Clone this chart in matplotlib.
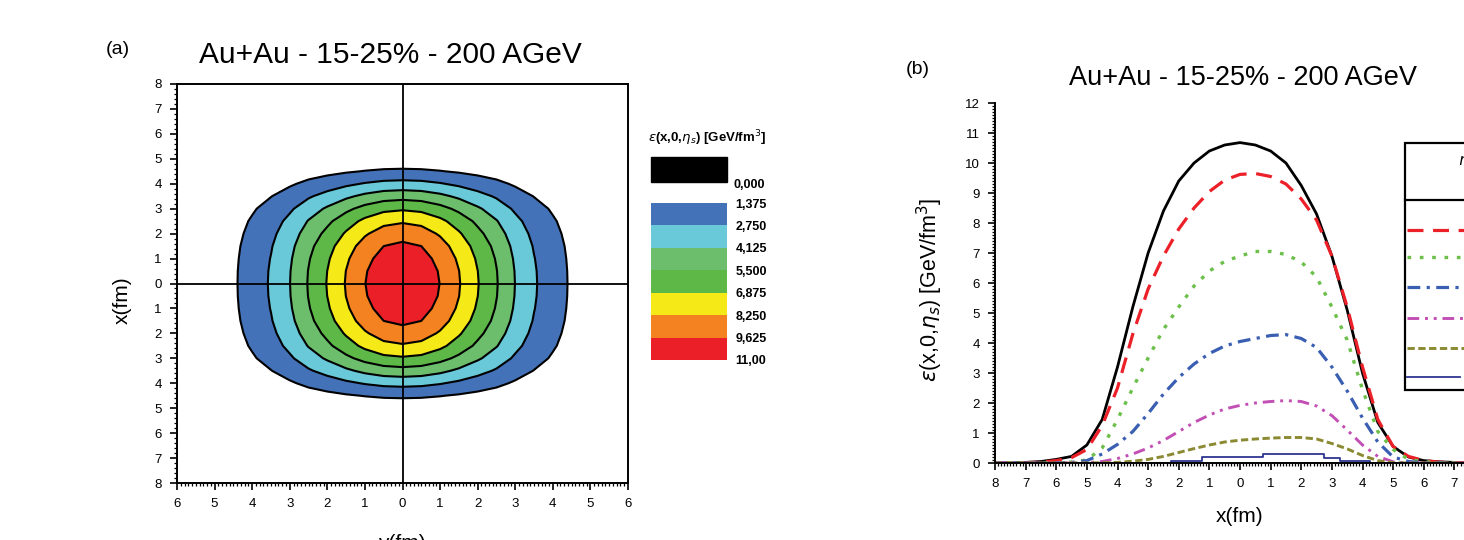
import numpy as np
import matplotlib
matplotlib.use("Agg")
import matplotlib.pyplot as plt
from matplotlib.ticker import MultipleLocator, FuncFormatter
from matplotlib.patches import Rectangle
from matplotlib.lines import Line2D

plt.rcParams["font.family"] = ["Liberation Sans", "DejaVu Sans"]

# -----------------------------
# Data: panel (a) contour field
# -----------------------------
levels = [1.375, 2.75, 4.125, 5.5, 6.875, 8.25, 9.625, 11.0]
level_labels = ["1,375", "2,750", "4,125", "5,500", "6,875", "8,250", "9,625", "11,00"]
band_colors = ["#4472B8", "#69C9D8", "#6DBE6C", "#5DB847", "#F5E917", "#F58220", "#EA1F27"]

# profile along the horizontal axis (0 .. 6 fm, step 0.5)
grid_h_half = [0.0, 0.5, 1.0, 1.5, 2.0, 2.5, 3.0, 3.5, 4.0, 4.5, 5.0, 5.5, 6.0]
prof_h_half = [10.8, 10.5, 9.6, 8.35, 6.95, 5.6, 4.1, 2.9, 2.0, 1.2, 0.4, 0.1, 0.0]
# profile along the vertical axis (0 .. 8 fm, step 0.5)
grid_v_half = [0.0, 0.5, 1.0, 1.5, 2.0, 2.5, 3.0, 3.5, 4.0, 4.5, 5.0, 5.5, 6.0, 6.5, 7.0, 7.5, 8.0]
prof_v_half = [10.8, 10.7, 10.4, 9.9, 9.1, 8.1, 6.7, 5.0, 3.2, 1.6, 0.5, 0.1, 0.0, 0.0, 0.0, 0.0, 0.0]
peak = 10.8

# -----------------------------
# Data: panel (b) profiles
# -----------------------------
x_prof = np.arange(-8.0, 8.01, 0.5)
eps_black = [0, 0, 0.02, 0.05, 0.12, 0.22, 0.6, 1.45, 3.2, 5.2, 7.0, 8.4, 9.4, 10.0, 10.4, 10.6, 10.68,
             10.6, 10.4, 10.0, 9.25, 8.3, 6.9, 5.1, 3.0, 1.35, 0.55, 0.2, 0.08, 0.04, 0.02, 0, 0]
eps_red = [0, 0, 0.01, 0.03, 0.08, 0.18, 0.45, 1.25, 2.5, 4.3, 5.8, 6.9, 7.8, 8.5, 9.05, 9.43, 9.62,
           9.65, 9.55, 9.3, 8.8, 8.1, 6.9, 5.2, 3.2, 1.45, 0.55, 0.22, 0.08, 0.03, 0.01, 0, 0]
eps_green = [0, 0, 0, 0, 0.01, 0.03, 0.1, 0.5, 1.45, 2.5, 3.5, 4.45, 5.2, 5.9, 6.4, 6.72, 6.9,
             7.05, 7.05, 6.95, 6.7, 6.2, 5.2, 4.1, 2.45, 1.05, 0.45, 0.12, 0.04, 0.01, 0, 0, 0]
eps_blue = [0, 0, 0, 0, 0, 0.02, 0.08, 0.3, 0.62, 1.05, 1.65, 2.3, 2.85, 3.3, 3.65, 3.9, 4.05,
            4.15, 4.25, 4.28, 4.15, 3.85, 3.2, 2.4, 1.5, 0.7, 0.2, 0.05, 0.01, 0, 0, 0, 0]
eps_magenta = [0, 0, 0, 0, 0, 0, 0.01, 0.05, 0.15, 0.3, 0.5, 0.75, 1.05, 1.35, 1.6, 1.8, 1.92,
               2.0, 2.05, 2.08, 2.05, 1.9, 1.58, 1.1, 0.6, 0.22, 0.04, 0, 0, 0, 0, 0, 0]
eps_olive = [0, 0, 0, 0, 0, 0, 0, 0.01, 0.02, 0.06, 0.12, 0.22, 0.35, 0.48, 0.6, 0.7, 0.76,
             0.8, 0.83, 0.85, 0.85, 0.8, 0.65, 0.47, 0.25, 0.08, 0.01, 0, 0, 0, 0, 0, 0]
eps_navy = [0, 0, 0, 0, 0, 0, 0, 0, 0, 0, 0, 0, 0.08, 0.08, 0.2, 0.2, 0.2,
            0.2, 0.3, 0.3, 0.3, 0.3, 0.18, 0.08, 0.08, 0, 0, 0, 0, 0, 0, 0, 0]

W, H = 1464, 540


def fpos(left, top, right, bottom):
    return [left / W, 1 - bottom / H, (right - left) / W, (bottom - top) / H]


def fxy(x, y):
    return x / W, 1 - y / H


absfmt = FuncFormatter(lambda v, p: f"{abs(v):g}")
# the label at +8 would fall outside the canvas
absfmt_b = FuncFormatter(lambda v, p: f"{abs(v):g}" if v < 7.5 else "")

fig = plt.figure(figsize=(W / 100, H / 100), dpi=100)

# -----------------------------
# Panel (a)
# -----------------------------
ax1 = fig.add_axes(fpos(177, 84, 628, 483))
grid_h = np.concatenate([-np.array(grid_h_half[:0:-1]), grid_h_half])
prof_h = np.concatenate([prof_h_half[:0:-1], prof_h_half])
grid_v = np.concatenate([-np.array(grid_v_half[:0:-1]), grid_v_half])
prof_v = np.concatenate([prof_v_half[:0:-1], prof_v_half])
field = np.outer(prof_v, prof_h) / peak

ax1.contourf(grid_h, grid_v, field, levels=levels, colors=band_colors)
ax1.contour(grid_h, grid_v, field, levels=levels[:-1], colors="black", linewidths=1.5)
ax1.axhline(0, color="black", lw=1.3)
ax1.axvline(0, color="black", lw=1.3)
ax1.set_xlim(-6, 6)
ax1.set_ylim(-8, 8)
ax1.xaxis.set_major_locator(MultipleLocator(1))
ax1.xaxis.set_minor_locator(MultipleLocator(0.1))
ax1.yaxis.set_major_locator(MultipleLocator(1))
ax1.yaxis.set_minor_locator(MultipleLocator(0.2))
ax1.xaxis.set_major_formatter(absfmt)
ax1.yaxis.set_major_formatter(absfmt)
ax1.tick_params(which="major", direction="out", length=5, width=1.2, labelsize=9.5, pad=6)
ax1.tick_params(which="minor", direction="out", length=2.5, width=0.9)
for s in ax1.spines.values():
    s.set_linewidth(1.4)

fig.text(*fxy(118, 50), "(a)", ha="center", va="center", fontsize=14)
fig.text(*fxy(390, 55), "Au+Au - 15-25% - 200 AGeV", ha="center", va="center", fontsize=21.5)
fig.text(*fxy(122, 300), "x(fm)", ha="center", va="center", rotation=90, fontsize=15)
fig.text(*fxy(402, 534), "y(fm)", ha="center", va="top", fontsize=15)

# colour legend of panel (a)
fig.text(*fxy(648, 138), r"$\varepsilon$(x,0,$\eta_s$) [GeV/fm$^3$]", ha="left", va="center",
         fontsize=9.5, fontweight="bold")
fig.patches.append(Rectangle(fxy(651, 182), 76 / W, 25 / H, transform=fig.transFigure,
                             facecolor="black", edgecolor="black"))
fig.text(*fxy(733, 185), "0,000", ha="left", va="center", fontsize=9, fontweight="bold")
axc = fig.add_axes(fpos(651, 203, 727, 360))
axc.bar(0, np.diff(levels), bottom=levels[:-1], width=1, color=band_colors)
axc.set_xlim(-0.5, 0.5)
axc.set_ylim(levels[-1], levels[0])
axc.set_xticks([])
axc.set_yticks(levels)
axc.set_yticklabels(level_labels)
axc.yaxis.tick_right()
axc.tick_params(axis="y", length=0, labelsize=9, pad=6)
for t in axc.get_yticklabels():
    t.set_fontweight("bold")
for s in axc.spines.values():
    s.set_visible(False)

# -----------------------------
# Panel (b)
# -----------------------------
ax2 = fig.add_axes(fpos(995, 103, 1485, 463))
styles = [
    (eps_black, "black", 2.0, "-"),
    (eps_red, "#EC2028", 2.3, (0, (5, 3))),
    (eps_green, "#6CC04A", 2.4, (0, (1.1, 2.6))),
    (eps_blue, "#3A5FB2", 2.3, (0, (4, 2, 1, 2))),
    (eps_magenta, "#C24FB4", 2.1, (0, (4, 2, 1, 2, 1, 2))),
    (eps_olive, "#8B8A32", 2.1, (0, (2.5, 1.2))),
]
for ys, col, lw, ls in styles:
    ax2.plot(x_prof, ys, color=col, lw=lw, linestyle=ls)
ax2.plot(x_prof, eps_navy, color="#2E3590", lw=1.3, drawstyle="steps-mid")

ax2.set_xlim(-8, 8)
ax2.set_ylim(0, 12)
ax2.spines["top"].set_visible(False)
ax2.spines["right"].set_visible(False)
for s in ("left", "bottom"):
    ax2.spines[s].set_linewidth(1.4)
ax2.xaxis.set_major_locator(MultipleLocator(1))
ax2.xaxis.set_minor_locator(MultipleLocator(0.1))
ax2.yaxis.set_major_locator(MultipleLocator(1))
ax2.yaxis.set_minor_locator(MultipleLocator(0.1))
ax2.xaxis.set_major_formatter(absfmt_b)
ax2.tick_params(which="major", direction="out", length=5, width=1.2, labelsize=9.5, pad=6)
ax2.tick_params(which="minor", direction="out", length=2.5, width=0.9)

fig.text(*fxy(918, 70), "(b)", ha="center", va="center", fontsize=14)
fig.text(*fxy(1243, 78), "Au+Au - 15-25% - 200 AGeV", ha="center", va="center", fontsize=19.5)
fig.text(*fxy(930, 290), r"$\varepsilon$(x,0,$\eta_s$) [GeV/fm$^3$]", ha="center", va="center",
         rotation=90, fontsize=15.5)
fig.text(*fxy(1240, 517), "x(fm)", ha="center", va="center", fontsize=15)

# legend box of panel (b), cut by the right edge
fig.patches.append(Rectangle(fxy(1405, 390), 120 / W, 247 / H, transform=fig.transFigure,
                             facecolor="white", edgecolor="black", lw=1.6))
fig.lines.append(Line2D([1405 / W, 1525 / W], [1 - 200 / H, 1 - 200 / H],
                        transform=fig.transFigure, color="black", lw=1.6))
fig.text(*fxy(1458, 162), r"$\eta_s$", ha="left", va="center", fontsize=11)
legend_y = [230, 257, 287, 318, 348, 377]
for (ys, col, lw, ls), yy in zip(styles[1:], legend_y):
    fig.lines.append(Line2D([1407 / W, 1470 / W], [1 - yy / H, 1 - yy / H],
                            transform=fig.transFigure, color=col, lw=lw, linestyle=ls))
fig.lines.append(Line2D([1407 / W, 1460 / W], [1 - 377 / H, 1 - 377 / H],
                        transform=fig.transFigure, color="#2E3590", lw=1.3))

fig.savefig("out.png", dpi=100)
